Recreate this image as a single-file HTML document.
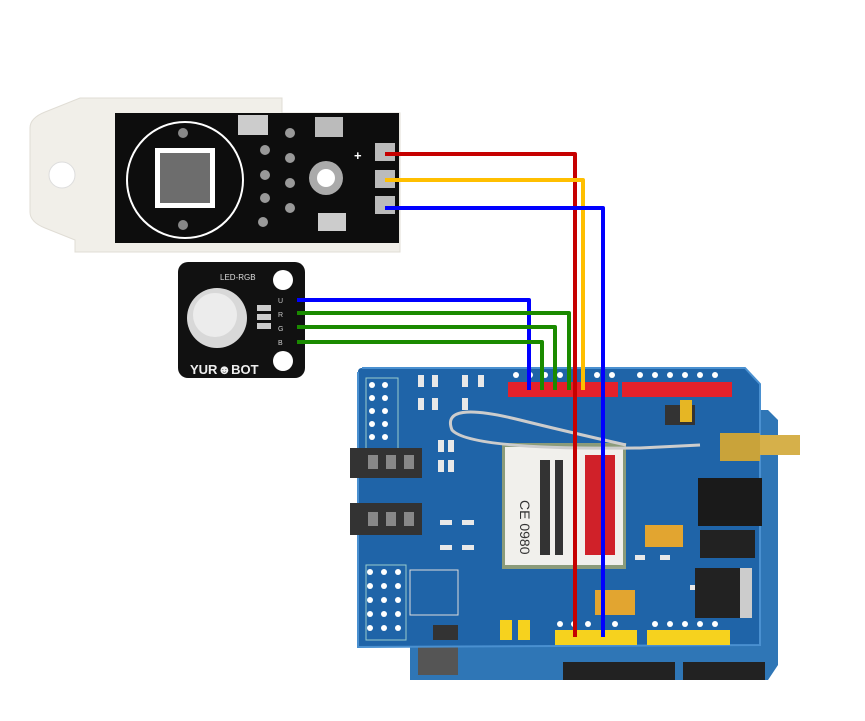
<!DOCTYPE html>
<html><head><meta charset="utf-8"><style>html,body{margin:0;padding:0;background:#fff}svg{display:block}</style></head>
<body>
<svg width="865" height="721" viewBox="0 0 865 721" xmlns="http://www.w3.org/2000/svg" font-family="Liberation Sans, sans-serif">
<!-- DHT housing -->
<path d="M30,128 Q30,118 45,112 L80,98 L282,98 L282,113 L400,113 L400,252 L75,252 L75,240 L45,228 Q30,222 30,212 Z" fill="#f1efe9" stroke="#e0ddd5"/>
<circle cx="62" cy="175" r="13" fill="#fff" stroke="#ddd"/>
<rect x="115" y="113" width="284" height="130" fill="#0d0d0d"/>
<circle cx="185" cy="180" r="58" fill="none" stroke="#fff" stroke-width="2"/>
<rect x="155" y="148" width="60" height="60" fill="#fff"/>
<rect x="160" y="153" width="50" height="50" fill="#6d6d6d"/>
<circle cx="183" cy="133" r="5" fill="#888"/><circle cx="183" cy="225" r="5" fill="#888"/>
<g fill="#999"><circle cx="265" cy="150" r="5"/><circle cx="265" cy="175" r="5"/><circle cx="265" cy="198" r="5"/><circle cx="290" cy="133" r="5"/><circle cx="290" cy="158" r="5"/><circle cx="290" cy="183" r="5"/><circle cx="290" cy="208" r="5"/><circle cx="263" cy="222" r="5"/></g>
<circle cx="326" cy="178" r="17" fill="#aaa"/><circle cx="326" cy="178" r="9" fill="#fff"/>
<rect x="238" y="115" width="30" height="20" fill="#ccc"/><rect x="315" y="117" width="28" height="20" fill="#bbb"/><rect x="318" y="213" width="28" height="18" fill="#ccc"/>
<rect x="375" y="143" width="20" height="18" fill="#bbb"/><rect x="375" y="170" width="20" height="18" fill="#bbb"/><rect x="375" y="196" width="20" height="18" fill="#bbb"/>
<text x="354" y="160" fill="#fff" font-size="13" font-weight="bold">+</text>
<!-- RGB module -->
<rect x="178" y="262" width="127" height="116" rx="10" fill="#111"/>
<circle cx="217" cy="318" r="30" fill="#d8d8d8"/><circle cx="215" cy="315" r="22" fill="#ececec"/>
<circle cx="283" cy="280" r="10" fill="#fff"/><circle cx="283" cy="361" r="10" fill="#fff"/>
<text x="220" y="280" fill="#ddd" font-size="8">LED-RGB</text>
<text x="190" y="374" fill="#eee" font-size="13" font-weight="bold">YUR☻BOT</text>
<g fill="#ccc" font-size="7"><text x="278" y="303">U</text><text x="278" y="317">R</text><text x="278" y="331">G</text><text x="278" y="345">B</text></g>
<rect x="257" y="305" width="14" height="6" fill="#ccc"/><rect x="257" y="314" width="14" height="6" fill="#ccc"/><rect x="257" y="323" width="14" height="6" fill="#ccc"/>
<!-- Arduino underneath -->
<path d="M410,640 L745,640 L745,410 L768,410 L778,420 L778,665 L768,680 L410,680 Z" fill="#2f76b6"/>
<rect x="563" y="662" width="112" height="18" fill="#222"/><rect x="683" y="662" width="82" height="18" fill="#222"/>
<rect x="418" y="645" width="40" height="30" fill="#555"/>
<!-- Shield -->
<path d="M358,372 Q358,368 362,368 L745,368 L760,384 L760,645 L358,647 Z" fill="#1f64a8"/>
<path d="M362,368 L745,368 L760,384 L760,645 L358,647 L358,372" fill="none" stroke="#4a90d0" stroke-width="2"/>
<!-- small components texture -->
<g fill="#e8e8e8">
<rect x="418" y="375" width="6" height="12"/><rect x="432" y="375" width="6" height="12"/><rect x="462" y="375" width="6" height="12"/><rect x="478" y="375" width="6" height="12"/>
<rect x="418" y="398" width="6" height="12"/><rect x="432" y="398" width="6" height="12"/><rect x="462" y="398" width="6" height="12"/>
<rect x="438" y="440" width="6" height="12"/><rect x="448" y="440" width="6" height="12"/><rect x="438" y="460" width="6" height="12"/><rect x="448" y="460" width="6" height="12"/>
<rect x="440" y="520" width="12" height="5"/><rect x="462" y="520" width="12" height="5"/><rect x="440" y="545" width="12" height="5"/><rect x="462" y="545" width="12" height="5"/>
<rect x="635" y="555" width="10" height="5"/><rect x="660" y="555" width="10" height="5"/><rect x="690" y="585" width="10" height="5"/>
</g>
<!-- headers -->
<rect x="508" y="382" width="110" height="15" fill="#e4212b"/><rect x="622" y="382" width="110" height="15" fill="#e4212b"/>
<g fill="#fff"><circle cx="516" cy="375" r="3"/><circle cx="530" cy="375" r="3"/><circle cx="545" cy="375" r="3"/><circle cx="560" cy="375" r="3"/><circle cx="597" cy="375" r="3"/><circle cx="612" cy="375" r="3"/><circle cx="640" cy="375" r="3"/><circle cx="655" cy="375" r="3"/><circle cx="670" cy="375" r="3"/><circle cx="685" cy="375" r="3"/><circle cx="700" cy="375" r="3"/><circle cx="715" cy="375" r="3"/>
<circle cx="560" cy="624" r="3"/><circle cx="574" cy="624" r="3"/><circle cx="588" cy="624" r="3"/><circle cx="615" cy="624" r="3"/><circle cx="655" cy="624" r="3"/><circle cx="670" cy="624" r="3"/><circle cx="685" cy="624" r="3"/><circle cx="700" cy="624" r="3"/><circle cx="715" cy="624" r="3"/>
<circle cx="372" cy="385" r="3"/><circle cx="372" cy="398" r="3"/><circle cx="372" cy="411" r="3"/><circle cx="372" cy="424" r="3"/><circle cx="372" cy="437" r="3"/><circle cx="385" cy="385" r="3"/><circle cx="385" cy="398" r="3"/><circle cx="385" cy="411" r="3"/><circle cx="385" cy="424" r="3"/><circle cx="385" cy="437" r="3"/>
<circle cx="370" cy="572" r="3"/><circle cx="370" cy="586" r="3"/><circle cx="370" cy="600" r="3"/><circle cx="370" cy="614" r="3"/><circle cx="370" cy="628" r="3"/><circle cx="384" cy="572" r="3"/><circle cx="384" cy="586" r="3"/><circle cx="384" cy="600" r="3"/><circle cx="384" cy="614" r="3"/><circle cx="384" cy="628" r="3"/><circle cx="398" cy="572" r="3"/><circle cx="398" cy="586" r="3"/><circle cx="398" cy="600" r="3"/><circle cx="398" cy="614" r="3"/><circle cx="398" cy="628" r="3"/>
</g>
<rect x="555" y="630" width="82" height="15" fill="#f6d21e"/><rect x="647" y="630" width="83" height="15" fill="#f6d21e"/>
<rect x="500" y="620" width="12" height="20" fill="#f6d21e"/><rect x="518" y="620" width="12" height="20" fill="#f6d21e"/>
<!-- left pin block -->
<rect x="366" y="378" width="32" height="75" fill="none" stroke="#9cc" stroke-width="1"/>
<rect x="366" y="565" width="40" height="75" fill="none" stroke="#9cc" stroke-width="1"/>
<rect x="410" y="570" width="48" height="45" fill="none" stroke="#ddd"/>
<!-- audio jacks -->
<g fill="#333"><rect x="350" y="448" width="72" height="30"/><rect x="350" y="503" width="72" height="32"/><rect x="433" y="625" width="25" height="15"/></g>
<g fill="#888"><rect x="368" y="455" width="10" height="14"/><rect x="386" y="455" width="10" height="14"/><rect x="404" y="455" width="10" height="14"/><rect x="368" y="512" width="10" height="14"/><rect x="386" y="512" width="10" height="14"/><rect x="404" y="512" width="10" height="14"/></g>
<!-- SIM module -->
<rect x="502" y="443" width="124" height="126" fill="#8b9b7a"/>
<rect x="505" y="447" width="118" height="118" fill="#f1f0ec"/>
<rect x="585" y="455" width="30" height="100" fill="#d02129"/>
<text x="520" y="500" font-size="14" transform="rotate(90 520 500)" fill="#333">CE 0980</text>
<g fill="#333"><rect x="540" y="460" width="10" height="95"/><rect x="555" y="460" width="8" height="95"/></g>
<!-- antenna cable -->
<path d="M626,445 Q560,430 520,420 Q440,400 452,430 Q470,450 640,448 L700,445" fill="none" stroke="#ccc" stroke-width="3"/>
<rect x="720" y="433" width="40" height="28" fill="#c9a33a"/><rect x="760" y="435" width="40" height="20" fill="#d6b04a"/>
<rect x="665" y="405" width="30" height="20" fill="#333"/><rect x="680" y="400" width="12" height="22" fill="#e6b624"/>
<!-- barrel jack, switch, regulator -->
<rect x="698" y="478" width="64" height="48" fill="#1a1a1a"/>
<rect x="700" y="530" width="55" height="28" fill="#222"/>
<rect x="695" y="568" width="55" height="50" fill="#222"/><rect x="740" y="568" width="12" height="50" fill="#ccc"/>
<rect x="645" y="525" width="38" height="22" fill="#e2a530"/><rect x="595" y="590" width="40" height="25" fill="#e2a530"/>
<!-- wires -->
<g fill="none" stroke-width="4" stroke-linejoin="round">
<path d="M385,154 L575,154 L575,637" stroke="#c60000"/>
<path d="M385,180 L583,180 L583,390" stroke="#ffbf00"/>
<path d="M385,208 L603,208 L603,637" stroke="#0000ff"/>
<path d="M297,300 L529,300 L529,390" stroke="#0000ff"/>
<path d="M297,313 L569,313 L569,390" stroke="#1a8a00"/>
<path d="M297,327 L555,327 L555,390" stroke="#1a8a00"/>
<path d="M297,342 L542,342 L542,390" stroke="#1a8a00"/>
</g>
</svg>
</body></html>
